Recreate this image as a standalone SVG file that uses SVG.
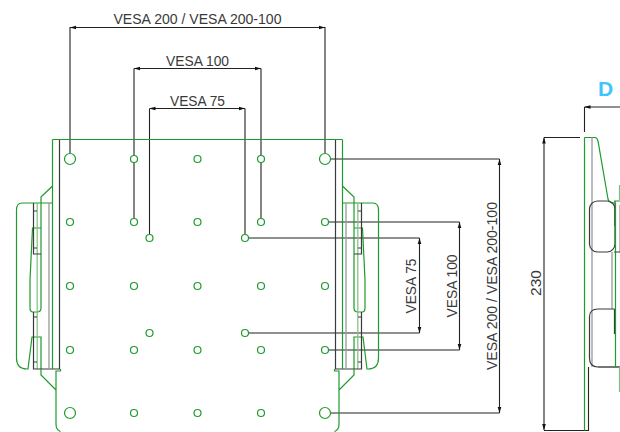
<svg xmlns="http://www.w3.org/2000/svg" width="620" height="432" viewBox="0 0 620 432">
<style>
.g{fill:none;stroke:#1f9a2c;stroke-width:1.2}
.lg{fill:none;stroke:#7dbf82;stroke-width:1.2}
.k{fill:none;stroke:#3a3a3a;stroke-width:1.2}
.m{fill:none;stroke:#999;stroke-width:1.3}
.d{fill:none;stroke:#222;stroke-width:1.1}
.h{fill:#fff;stroke:#1f9a2c;stroke-width:1.2}
text{font-family:"Liberation Sans",Arial,sans-serif;font-size:14.5px;fill:#3a3a3a}
</style>
<defs>
<marker id="a" viewBox="0 0 6 6" refX="6" refY="3" markerWidth="6" markerHeight="6" orient="auto-start-reverse" markerUnits="userSpaceOnUse"><path d="M0 1.2 6 3 0 4.8Z" fill="#111"/></marker>
<g id="side">
<path class="g" d="M52.5 186L41 197V203M22 203H52.5M22 203Q16.5 203 16.5 210V358Q16.5 369 27 369H28L32 337H41V369M41 203V308Q41 312 37 312H33Q30 312 30 308V280L32.5 228H41V254"/>
<path class="lg" d="M37.2 203V369"/>
<path class="k" d="M33.5 203V254H41M33.5 312V369H60M33.5 211H37M33.5 248H37M33.5 317H37M33.5 362H37"/>
<path class="m" d="M49 203V369"/>
<path class="g" d="M52.5 139.5V369M60.5 369V371H56V424Q56 430 60.5 431.5M41 369V375L56 390"/>
<path class="k" d="M59.5 139.5V369"/>
</g>
</defs>
<g id="connectors">
<path class="d" d="M70 27V153M325 27V153M134 68.5V218.5M261 68.5V218.5M149.5 108.5V234.5M245 108.5V234.5"/>
<path class="d" d="M331 159H499.5M331 413H499.5M329 222H459.5M329 350H459.5M249 238H419.5M249 333H419.5"/>
<path class="d" marker-start="url(#a)" marker-end="url(#a)" d="M70 27.5H325"/>
<path class="d" marker-start="url(#a)" marker-end="url(#a)" d="M134 68.5H261"/>
<path class="d" marker-start="url(#a)" marker-end="url(#a)" d="M149.5 108.5H245"/>
<path class="d" marker-start="url(#a)" marker-end="url(#a)" d="M499.5 159V413"/>
<path class="d" marker-start="url(#a)" marker-end="url(#a)" d="M459.5 222V350"/>
<path class="d" marker-start="url(#a)" marker-end="url(#a)" d="M419.5 238V333"/>
<path class="d" marker-start="url(#a)" marker-end="url(#a)" d="M544 137.5V430"/>
<path class="d" d="M544 137.5H580M544 430.5H588.5V367M584.5 107V132"/>
<path class="d" marker-start="url(#a)" d="M584.5 107H620"/>
</g>
<g id="front-plate">
<use href="#side"/>
<use href="#side" transform="matrix(-1 0 0 1 395 0)"/>
<path class="g" d="M52.5 139.5H342.5"/>
</g>
<g id="holes" class="h">
<circle cx="70" cy="159" r="5.5"/><circle cx="325" cy="159" r="5.5"/><circle cx="70" cy="413" r="5.5"/><circle cx="325" cy="413" r="5.5"/>
<circle cx="134" cy="159" r="3.5"/><circle cx="197.5" cy="159" r="3.5"/><circle cx="261" cy="159" r="3.5"/>
<circle cx="70" cy="222" r="3.5"/><circle cx="134" cy="222" r="3.5"/><circle cx="197.5" cy="222" r="3.5"/><circle cx="261" cy="222" r="3.5"/><circle cx="325" cy="222" r="3.5"/>
<circle cx="70" cy="286" r="3.5"/><circle cx="134" cy="286" r="3.5"/><circle cx="197.5" cy="286" r="3.5"/><circle cx="261" cy="286" r="3.5"/><circle cx="325" cy="286" r="3.5"/>
<circle cx="70" cy="350" r="3.5"/><circle cx="134" cy="350" r="3.5"/><circle cx="197.5" cy="350" r="3.5"/><circle cx="261" cy="350" r="3.5"/><circle cx="325" cy="350" r="3.5"/>
<circle cx="134" cy="413" r="3.5"/><circle cx="197.5" cy="413" r="3.5"/><circle cx="261" cy="413" r="3.5"/>
<circle cx="149.5" cy="238" r="3.5"/><circle cx="245" cy="238" r="3.5"/><circle cx="149.5" cy="333" r="3.5"/><circle cx="245" cy="333" r="3.5"/>
</g>
<g id="side-view">
<path class="g" d="M584.5 137.5V430.5M584.5 137.5H595Q597 137.5 598 141L608 199Q609 203 614 203"/>
<path class="m" d="M592 137.5V367M612 252V309M620 205V252M598 367H620"/>
<rect class="k" x="589.5" y="201" width="25.5" height="51" rx="8" fill="none"/>
<path class="k" d="M614.5 309H598Q589.5 309 589.5 317V358Q589.5 367 598 367H620M614 252H620"/>
<path class="k" d="M614.5 309V334M615 201V226"/>
<path class="g" d="M615.5 203V367M614 201H620"/>
<path class="lg" d="M619.5 185V200M619.5 367V392"/>
</g>
<g id="labels">
<text x="197.5" y="24" text-anchor="middle" textLength="168" lengthAdjust="spacingAndGlyphs">VESA 200 / VESA 200-100</text>
<text x="197.5" y="65.5" text-anchor="middle" textLength="63" lengthAdjust="spacingAndGlyphs">VESA 100</text>
<text x="197.5" y="106" text-anchor="middle" textLength="55" lengthAdjust="spacingAndGlyphs">VESA 75</text>
<text transform="translate(497 286) rotate(-90)" text-anchor="middle" textLength="168" lengthAdjust="spacingAndGlyphs">VESA 200 / VESA 200-100</text>
<text transform="translate(457 286) rotate(-90)" text-anchor="middle" textLength="63" lengthAdjust="spacingAndGlyphs">VESA 100</text>
<text transform="translate(416 286) rotate(-90)" text-anchor="middle" textLength="55" lengthAdjust="spacingAndGlyphs">VESA 75</text>
<text transform="translate(541 283) rotate(-90)" text-anchor="middle" style="font-size:15.5px">230</text>
<text x="605.5" y="95.5" text-anchor="middle" style="font-size:21px;font-weight:bold;fill:#3fc4fb">D</text>
</g>
</svg>
